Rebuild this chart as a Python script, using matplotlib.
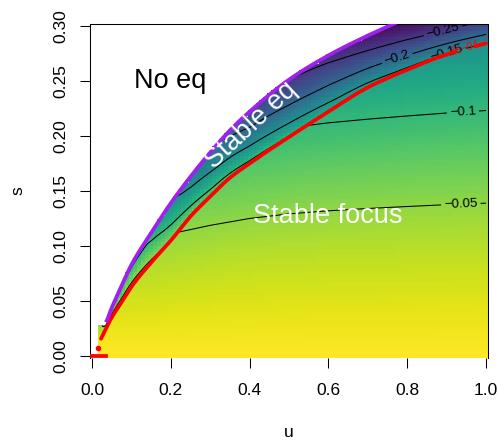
import numpy as np
import matplotlib
matplotlib.use("Agg")
import matplotlib.pyplot as plt

plt.rcParams['font.family'] = ['Liberation Sans', 'DejaVu Sans']

# outer edge of the equilibrium region (purple line)
edge_u = [0.02, 0.035, 0.05, 0.075, 0.1, 0.15, 0.2, 0.25, 0.3, 0.35, 0.4, 0.5, 0.6, 0.7, 0.8, 0.9, 1.0]
edge_s = [0.027, 0.031, 0.044, 0.064, 0.083, 0.112, 0.139, 0.163, 0.185, 0.205, 0.222,
          0.251, 0.273, 0.291, 0.307, 0.322, 0.336]

# node / focus boundary (red line)
red_u = [0.023, 0.048, 0.073, 0.106, 0.15, 0.2, 0.25, 0.3, 0.35, 0.4, 0.5, 0.6, 0.7, 0.8, 0.9, 1.0]
red_s = [0.016, 0.034, 0.048, 0.066, 0.085, 0.105, 0.127, 0.145, 0.162, 0.175, 0.199,
         0.222, 0.244, 0.260, 0.274, 0.284]
red_tail_u = [0.0, 0.035]
red_tail_s = [0.0, 0.0]
red_dot = (0.015, 0.008)

# value profile in the focus region (at u = 1) and its stretch with u
focus_s = [0, 0.04, 0.081, 0.11, 0.139, 0.184, 0.223, 0.256, 0.285, 0.32]
focus_v = [0, -0.011, -0.025, -0.036, -0.05, -0.075, -0.1, -0.125, -0.15, -0.18]
stretch_u = [0.0, 0.1, 0.2, 0.3, 0.4, 0.5, 0.6, 0.7, 0.8, 0.9, 1.0]
stretch_k = [0.71, 0.74, 0.80, 0.855, 0.90, 0.93, 0.95, 0.965, 0.978, 0.99, 1.0]

# value on the purple edge, and the shape of the band between red and purple
rim_u = [0.02, 0.035, 0.05, 0.07, 0.1, 0.14, 0.17, 0.2, 0.22, 0.25, 0.3, 0.4, 0.5,
         0.6, 0.7, 0.8, 0.9, 1.0]
rim_v = [-0.04, -0.07, -0.095, -0.104, -0.106, -0.108, -0.125, -0.145, -0.155, -0.17,
         -0.19, -0.23, -0.25, -0.262, -0.28, -0.30, -0.325, -0.34]
band_t = [0, 0.05, 0.15, 0.3, 0.5, 0.7, 0.85, 1.0]
band_f = [0, 0.12, 0.26, 0.42, 0.63, 0.8, 0.91, 1.0]

levels = [-0.25, -0.2, -0.15, -0.1, -0.05]
level_labels = ['\u22120.25', '\u22120.2', '\u22120.15', '\u22120.1', '\u22120.05']


def smooth(xk, yk, x):
    # monotone cubic through the read points
    xk = np.asarray(xk, float)
    yk = np.asarray(yk, float)
    h = np.diff(xk)
    d = np.diff(yk) / h
    m = np.zeros_like(yk)
    m[0], m[-1] = d[0], d[-1]
    for i in range(1, len(xk) - 1):
        if d[i - 1] * d[i] > 0:
            w1 = 2 * h[i] + h[i - 1]
            w2 = h[i] + 2 * h[i - 1]
            m[i] = (w1 + w2) / (w1 / d[i - 1] + w2 / d[i])
    x = np.clip(np.asarray(x, float), xk[0], xk[-1])
    i = np.clip(np.searchsorted(xk, x) - 1, 0, len(h) - 1)
    t = (x - xk[i]) / h[i]
    return ((2 * t**3 - 3 * t**2 + 1) * yk[i] + (t**3 - 2 * t**2 + t) * h[i] * m[i]
            + (-2 * t**3 + 3 * t**2) * yk[i + 1] + (t**3 - t**2) * h[i] * m[i + 1])


def field(U, S):
    top = smooth(edge_u, edge_s, U)
    red = smooth(red_u, red_s, U)
    k = np.interp(U, stretch_u, stretch_k)
    focus = np.interp(S / k, focus_s, focus_v)
    v_red = np.interp(red / k, focus_s, focus_v)
    t = np.clip((S - red) / (top - red), 0, 1)
    band = v_red + (np.interp(U, rim_u, rim_v) - v_red) * np.interp(t, band_t, band_f)
    Z = np.where(S <= red, focus, band)
    return np.ma.masked_where((S > top) | (U < 0.02), Z)


fig = plt.figure(figsize=(4.98, 4.44), dpi=100)
ax = fig.add_axes([90 / 498, 1 - 358 / 444, 398 / 498, 334 / 444])

# coarse image like R's image()
uu = np.linspace(0, 1, 101)
ss = np.linspace(0, 0.3, 101)
U, S = np.meshgrid(uu, ss)
ax.pcolormesh(uu, ss, field(U, S), cmap='viridis', vmin=-0.30, vmax=0,
              shading='nearest', zorder=1)

# contours on a finer grid
uf = np.linspace(0, 1, 501)
sf = np.linspace(0, 0.3015, 601)
Uf, Sf = np.meshgrid(uf, sf)
Zf = field(Uf, Sf)
label_pos = [(0.891, 0.295), (0.777, 0.268), (0.901, 0.274), (0.941, 0.2235), (0.936, 0.138)]
for lev, lab, pos in zip(levels, level_labels, label_pos):
    cs = ax.contour(Uf, Sf, Zf, levels=[lev], colors='black', linewidths=0.75,
                    linestyles='solid', zorder=2)
    ax.clabel(cs, fmt={lev: lab}, manual=[pos], inline=True, fontsize=9.5, inline_spacing=3)

# red boundary, with a gap for its label
gap = (0.922, 0.972)
left_u = np.linspace(red_u[0], gap[0], 200)
right_u = np.linspace(gap[1], red_u[-1], 20)
ax.plot(left_u, smooth(red_u, red_s, left_u), color='red', lw=2.7, zorder=4,
        solid_capstyle='round')
ax.plot(right_u, smooth(red_u, red_s, right_u), color='red', lw=2.7, zorder=4,
        solid_capstyle='round')
ax.plot(red_tail_u, red_tail_s, color='red', lw=2.7, zorder=4)
ax.plot(*red_dot, 'o', color='red', ms=3, zorder=4)
ax.text(0.945, 0.2795, '1e\u221204', color='red', fontsize=7.5, rotation=16,
        ha='center', va='center', zorder=5)

# purple edge
pu = np.linspace(0.035, 1.0, 300)
ax.plot(pu, smooth(edge_u, edge_s, pu), color='#A020F0', lw=2.7, zorder=4,
        solid_capstyle='butt')

ax.text(0.198, 0.2434, 'No eq', fontsize=19.5, ha='center', va='baseline')
ax.text(0.404, 0.210, 'Stable eq', fontsize=19.5, color='white', ha='center',
        va='center', rotation=43, zorder=6)
ax.text(0.598, 0.1213, 'Stable focus', fontsize=19.5, color='white', ha='center',
        va='baseline', zorder=6)

ax.set_xlim(-0.005, 1.005)
ax.set_ylim(-0.0015, 0.3015)
ax.set_xticks([0, 0.2, 0.4, 0.6, 0.8, 1.0])
ax.set_xticklabels(['0.0', '0.2', '0.4', '0.6', '0.8', '1.0'])
ax.set_yticks([0, 0.05, 0.1, 0.15, 0.2, 0.25, 0.3])
ax.set_yticklabels(['0.00', '0.05', '0.10', '0.15', '0.20', '0.25', '0.30'])
ax.tick_params(direction='out', length=7.2, width=0.75, labelsize=12.5)
ax.tick_params(axis='x', pad=10.6)
ax.tick_params(axis='y', pad=8.1)
for lab in ax.get_yticklabels():
    lab.set_rotation(90)
    lab.set_va('center')
for side in ['left', 'top', 'right']:
    ax.spines[side].set_linewidth(0.75)
ax.spines['bottom'].set_visible(False)

ax.set_xlabel('u', fontsize=12.5)
ax.set_ylabel('s', fontsize=12.5)
ax.xaxis.set_label_coords(0.5, -0.2)
ax.yaxis.set_label_coords(-0.161, 0.5)

fig.savefig('out.png', dpi=100)
